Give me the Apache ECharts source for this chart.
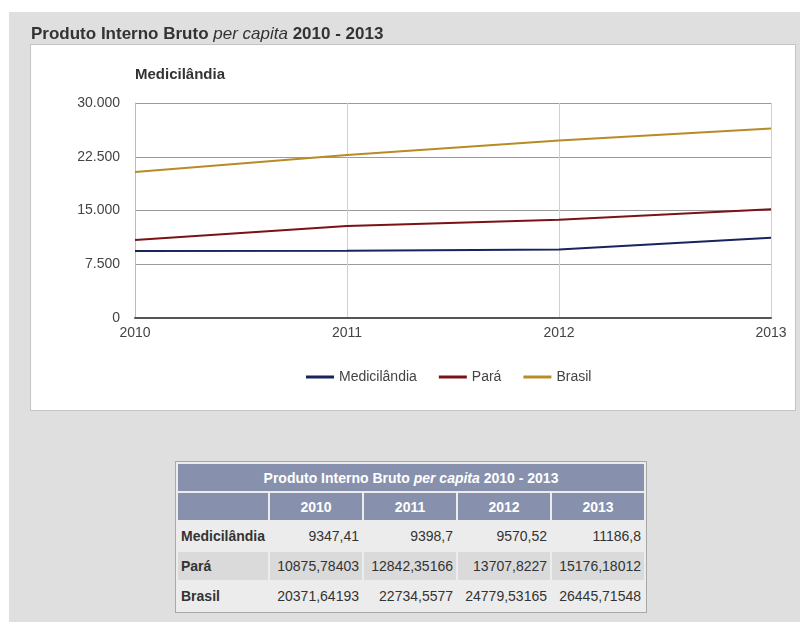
<!DOCTYPE html>
<html>
<head>
<meta charset="utf-8">
<script src="https://cdn.jsdelivr.net/npm/echarts@6/dist/echarts.min.js"></script>
<style>
  html, body { margin:0; padding:0; width:802px; height:622px; background:#fff; overflow:hidden; font-family:"Liberation Sans", Arial, sans-serif; }
  #bg { position:absolute; left:9px; top:12px; width:791px; height:610px; background:#dfdfdf; }
  #box { position:absolute; left:30px; top:44px; width:764px; height:365px; background:#fff; border:1px solid #c4c4c4; }
  #chart { position:absolute; left:0; top:0; width:802px; height:622px; }
  #tbl { position:absolute; left:175px; top:461px; border:1px solid #a8a8a8; background:#ececec; border-spacing:2px; border-collapse:separate; font-size:14px; color:#333; }
  #tbl td, #tbl th { padding:0 3px; height:27px; }
  #tbl th { background:#8791ae; color:#fff; font-weight:bold; text-align:center; font-size:14px; }
  #tbl td { text-align:right; width:86px; height:28px; }
  #tbl td.name { text-align:left; font-weight:bold; width:84px; }
  #tbl tr.alt td { background:#dadada; }
</style>
</head>
<body>
<div id="bg"></div>
<div id="box"></div>
<div id="chart"></div>
<table id="tbl"></table>
<script>
// ---- data ----
var years = ['2010', '2011', '2012', '2013'];
var seriesNames = ['Medicilândia', 'Pará', 'Brasil'];
var medicilandia = [9347.41, 9398.7, 9570.52, 11186.8];
var para = [10875.78403, 12842.35166, 13707.8227, 15176.18012];
var brasil = [20371.64193, 22734.5577, 24779.53165, 26445.71548];
var yTickLabels = ['0', '7.500', '15.000', '22.500', '30.000'];
var tableTitle = ['Produto Interno Bruto ', 'per capita', ' 2010 - 2013'];
var chartTitle = ['Produto Interno Bruto ', 'per capita', ' 2010 - 2013'];
var subTitle = 'Medicilândia';

var colors = ['#17245e', '#7a1216', '#b88c24'];
var allSeries = [medicilandia, para, brasil];

var chart = echarts.init(document.getElementById('chart'), null, { renderer: 'canvas' });
var font = '"Liberation Sans", Arial, sans-serif';

chart.setOption({
  backgroundColor: 'transparent',
  animation: false,
  title: [
    {
      text: chartTitle[0] + '{i|' + chartTitle[1] + '}' + chartTitle[2],
      left: 31, top: 26, padding: 0,
      textStyle: {
        fontFamily: font, fontSize: 17, fontWeight: 'bold', color: '#333',
        rich: { i: { fontFamily: font, fontSize: 17, fontStyle: 'italic', fontWeight: 'normal', color: '#333' } }
      }
    },
    {
      text: subTitle,
      left: 135, top: 67, padding: 0,
      textStyle: { fontFamily: font, fontSize: 15, fontWeight: 'bold', color: '#333' }
    }
  ],
  grid: { left: 135, right: 31, top: 103, bottom: 304, containLabel: false },
  legend: {
    left: 306, top: 370, padding: 0,
    icon: 'rect', itemWidth: 28, itemHeight: 3, itemGap: 22,
    textStyle: { fontFamily: font, fontSize: 14, color: '#444' },
    data: seriesNames
  },
  xAxis: {
    type: 'category', data: years, boundaryGap: false,
    axisLine: { show: true, lineStyle: { color: '#555', width: 2 } },
    axisTick: { show: false },
    axisLabel: { fontFamily: font, fontSize: 14, color: '#444', margin: 8, showMinLabel: true, showMaxLabel: true },
    splitLine: { show: true, lineStyle: { color: '#d0d0d0', width: 1 } }
  },
  yAxis: {
    type: 'value', min: 0, max: 30000, interval: 7500,
    axisLine: { show: true, lineStyle: { color: '#bbb', width: 1 } },
    axisTick: { show: false },
    axisLabel: {
      fontFamily: font, fontSize: 14, color: '#444', margin: 15,
      formatter: function (v) { return yTickLabels[Math.round(v / 7500)]; }
    },
    splitLine: { show: true, lineStyle: { color: '#9a9a9a', width: 1 } }
  },
  series: seriesNames.map(function (n, i) {
    return {
      name: n, type: 'line', data: allSeries[i],
      showSymbol: false, symbol: 'none',
      lineStyle: { color: colors[i], width: 2 },
      itemStyle: { color: colors[i] }
    };
  })
});

// ---- table ----
function fmt(v) { return String(v).replace('.', ','); }
var tbl = document.getElementById('tbl');
var html = '<tr><th colspan="5">' + tableTitle[0] + '<i>' + tableTitle[1] + '</i>' + tableTitle[2] + '</th></tr>';
html += '<tr><th></th>' + years.map(function (y) { return '<th>' + y + '</th>'; }).join('') + '</tr>';
seriesNames.forEach(function (n, i) {
  html += '<tr' + (i === 1 ? ' class="alt"' : '') + '><td class="name">' + n + '</td>' +
    allSeries[i].map(function (v) { return '<td>' + fmt(v) + '</td>'; }).join('') + '</tr>';
});
tbl.innerHTML = html;
</script>
</body>
</html>
